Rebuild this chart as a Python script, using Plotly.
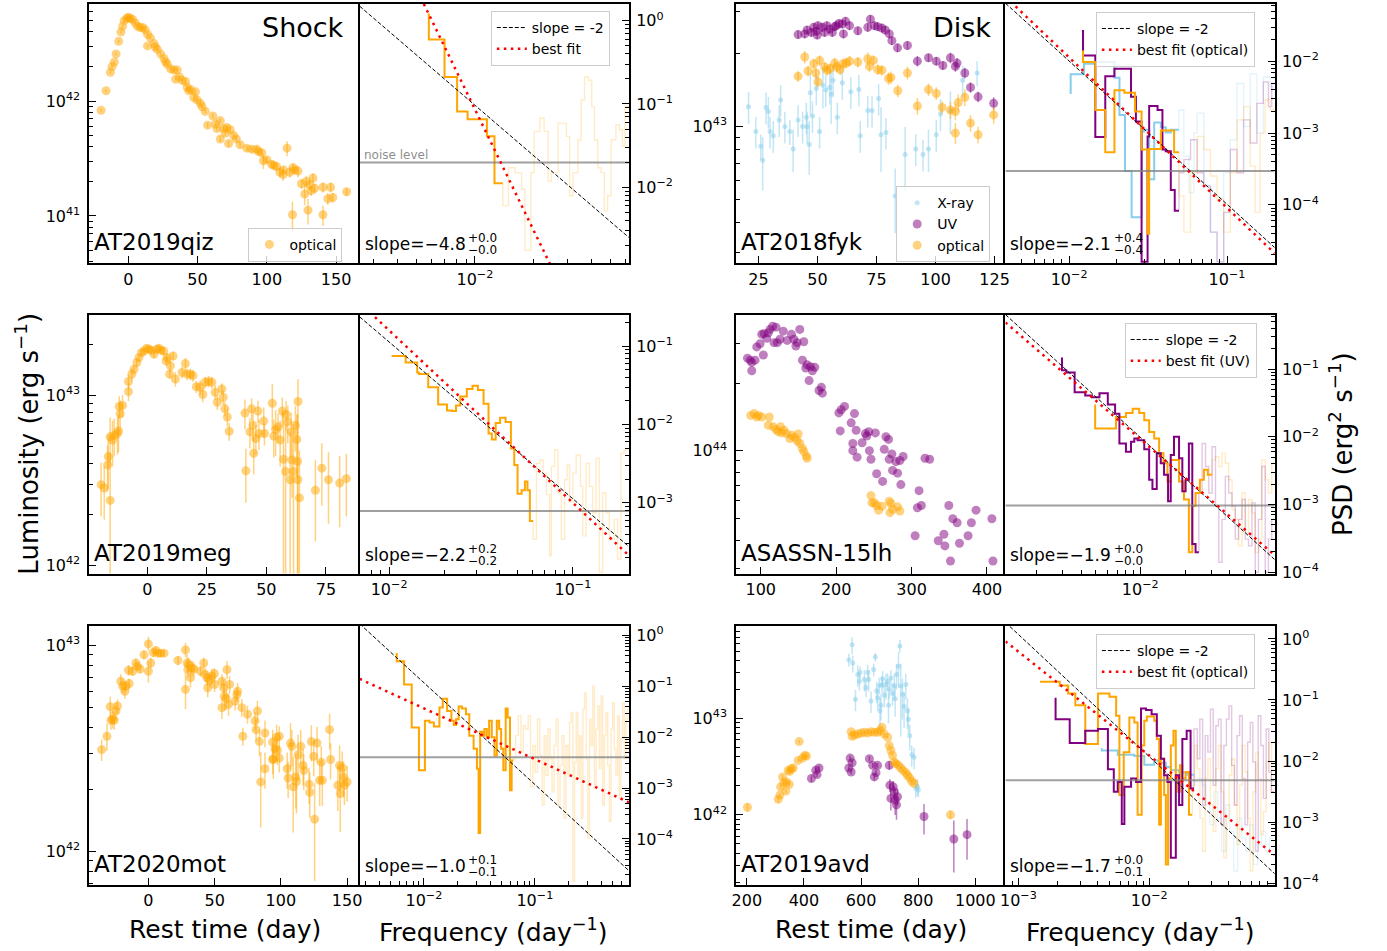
import numpy as np
import plotly.graph_objects as go

# ------------------------------------------------------------------
# Light curves: rest-frame time (day), log10 luminosity (erg/s) and
# fractional 1-sigma uncertainty of each point
# ------------------------------------------------------------------
qiz_t = [-19.6, -16.0, -12.9, -11.7, -10.0, -8.8, -6.9, -5.3, -4.1, -2.9, -1.0, 0.0, 1.4, 3.1, 5.0,
         6.7, 8.6, 10.3, 12.2, 13.9, 13.9, 16.0, 18.6, 19.5, 21.0, 23.4, 25.8, 27.0, 28.2, 30.6,
         33.0, 34.2, 35.3, 37.0, 38.9, 41.3, 42.5, 43.7, 45.0, 47.3, 48.5, 49.7, 52.0, 53.3, 55.6,
         57.3, 61.1, 63.0, 64.0, 66.4, 66.4, 68.8, 70.0, 71.2, 72.4, 73.6, 76.0, 78.0, 80.7, 85.5,
         89.1, 92.7, 94.0, 96.3, 97.5, 100.0, 103.4, 105.0, 107.0, 109.4, 111.8, 112.0, 114.6, 116.5,
         118.5, 118.9, 120.0, 122.5, 125.0, 127.3, 128.5, 129.7, 130.9, 132.0, 133.3, 134.5, 140.5,
         140.5, 144.0, 146.0, 147.6, 157.6]
qiz_logL = [41.92, 42.09, 42.25, 42.30, 42.34, 42.41, 42.52, 42.60, 42.65, 42.70, 42.72, 42.73, 42.72,
            42.71, 42.68, 42.65, 42.64, 42.64, 42.62, 42.58, 42.48, 42.55, 42.50, 42.47, 42.45, 42.41,
            42.37, 42.34, 42.32, 42.28, 42.27, 42.19, 42.27, 42.21, 42.18, 42.17, 42.12, 42.09, 42.10,
            42.03, 42.08, 42.01, 41.98, 41.95, 41.91, 41.79, 41.87, 41.80, 41.76, 41.83, 41.67, 41.76,
            41.72, 41.77, 41.63, 41.75, 41.70, 41.67, 41.62, 41.59, 41.58, 41.58, 41.56, 41.55, 41.48,
            41.49, 41.45, 41.44, 41.43, 41.38, 41.36, 41.40, 41.59, 41.38, 41.01, 41.42, 41.40, 41.39,
            41.28, 41.19, 41.30, 41.05, 41.27, 41.22, 41.33, 41.24, 41.25, 41.01, 41.15, 41.25, 41.16,
            41.21]
qiz_err = [0.03, 0.03, 0.03, 0.03, 0.03, 0.03, 0.03, 0.03, 0.03, 0.03, 0.03, 0.03, 0.03, 0.03, 0.03,
           0.03, 0.03, 0.03, 0.03, 0.03, 0.03, 0.03, 0.03, 0.03, 0.03, 0.03, 0.03, 0.03, 0.03, 0.03,
           0.03, 0.03, 0.03, 0.03, 0.03, 0.04, 0.04, 0.04, 0.04, 0.04, 0.04, 0.04, 0.04, 0.04, 0.04,
           0.05, 0.05, 0.05, 0.05, 0.05, 0.06, 0.05, 0.05, 0.05, 0.06, 0.05, 0.05, 0.06, 0.06, 0.06,
           0.06, 0.08, 0.06, 0.07, 0.15, 0.06, 0.07, 0.08, 0.08, 0.10, 0.12, 0.08, 0.15, 0.10, 0.30,
           0.10, 0.08, 0.12, 0.10, 0.20, 0.12, 0.25, 0.12, 0.10, 0.10, 0.10, 0.10, 0.20, 0.12, 0.10,
           0.10, 0.08]

meg_t = [-19.4, -18.1, -16.7, -16.4, -15.6, -15.6, -14.6, -13.9, -12.5, -12.1, -11.4, -10.4, -11.8,
         -7.9, -7.9, -6.5, -5.6, -4.4, -3.5, -2.5, -1.4, -0.3, 0.7, 1.7, 2.8, 3.9, 4.9, 5.8, 6.9, 7.9,
         8.3, 9.7, 10.8, 11.8, 9.4, 14.6, 16.0, 16.7, 18.1, 19.2, 20.6, 22.2, 23.3, 24.3, 25.7, 27.1,
         28.5, 29.4, 31.3, 31.9, 32.6, 33.6, 34.4, 41.0, 41.4, 43.8, 43.1, 44.4, 44.7, 45.6, 46.5,
         46.9, 48.9, 49.2, 52.5, 53.1, 53.9, 54.9, 55.8, 56.7, 57.2, 58.3, 58.1, 59.0, 60.0, 60.4,
         60.8, 61.4, 62.2, 62.8, 63.1, 63.2, 63.3, 63.9, 70.6, 73.3, 76.1, 80.8, 83.6]
meg_logL = [42.476, 42.456, 42.592, 42.641, 42.383, 42.757, 42.738, 42.767, 42.777, 42.792, 42.893,
            42.942, 42.936, 43.023, 43.083, 43.126, 43.155, 43.194, 43.223, 43.252, 43.262, 43.278,
            43.272, 43.266, 43.243, 43.272, 43.278, 43.266, 43.262, 43.204, 43.223, 43.175, 43.233,
            43.097, 43.126, 43.136, 43.188, 43.126, 43.126, 43.117, 43.052, 43.049, 43.006, 43.078,
            43.083, 43.078, 43.019, 42.961, 43.039, 42.990, 42.922, 42.874, 42.790, 42.897, 42.557,
            42.922, 42.786, 42.825, 42.660, 42.748, 42.909, 42.777, 42.850, 42.777, 42.955, 42.761,
            42.800, 42.816, 42.738, 42.909, 42.625, 42.889, 42.553, 42.845, 42.505, 42.786, 42.621,
            42.553, 42.825, 42.742, 42.612, 42.505, 42.965, 42.398, 42.443, 42.573, 42.505, 42.485,
            42.511]
meg_err = [0.35, 0.35, 0.30, 0.35, 0.90, 0.30, 0.30, 0.25, 0.25, 0.25, 0.20, 0.15, 0.15, 0.12, 0.10,
           0.08, 0.06, 0.06, 0.05, 0.05, 0.05, 0.05, 0.05, 0.05, 0.05, 0.05, 0.05, 0.05, 0.06, 0.06,
           0.06, 0.08, 0.06, 0.10, 0.06, 0.08, 0.08, 0.08, 0.08, 0.08, 0.08, 0.10, 0.10, 0.08, 0.08,
           0.08, 0.10, 0.10, 0.08, 0.10, 0.10, 0.12, 0.12, 0.20, 0.35, 0.15, 0.20, 0.20, 0.25, 0.20,
           0.15, 0.20, 0.20, 0.15, 0.30, 0.25, 0.30, 0.20, 0.30, 0.20, 0.90, 0.20, 0.90, 0.25, 0.90,
           0.30, 0.40, 0.90, 0.30, 0.40, 0.90, 0.90, 0.35, 0.90, 0.50, 0.40, 0.45, 0.45, 0.40]

mot_t = [-35.3, -31.3, -28.8, -28.3, -27.0, -25.8, -24.5, -23.3, -20.8, -19.5, -17.8, -17.0, -14.5,
         -15.0, -12.0, -9.5, -8.3, -6.3, -3.3, 0.0, 0.0, 1.8, 3.8, 5.5, 7.3, 9.3, 11.8, 22.3, 28.0,
         28.0, 29.3, 29.8, 30.5, 31.8, 33.0, 34.3, 39.3, 41.8, 43.0, 44.3, 44.8, 46.3, 48.0, 49.8,
         50.0, 55.5, 56.8, 55.5, 57.3, 58.8, 59.3, 61.3, 60.5, 65.5, 67.3, 66.8, 70.5, 71.3, 74.8,
         80.5, 81.3, 82.3, 83.8, 84.8, 88.0, 88.0, 93.8, 94.3, 95.5, 96.8, 97.3, 98.8, 98.8, 93.8,
         104.8, 105.5, 107.3, 108.3, 109.3, 111.3, 111.8, 113.0, 115.0, 116.8, 117.3, 121.3, 121.8,
         123.0, 124.8, 125.5, 127.3, 129.3, 130.5, 131.3, 136.8, 137.5, 143.0, 144.3, 144.8, 146.3,
         147.3, 148.0, 150.0]
mot_logL = [42.494, 42.559, 42.703, 42.637, 42.642, 42.637, 42.682, 42.706, 42.827, 42.803, 42.778,
            42.803, 42.815, 42.880, 42.875, 42.915, 42.899, 42.886, 42.955, 43.008, 42.875, 42.915,
            42.966, 42.976, 42.963, 42.963, 42.963, 42.928, 42.979, 42.787, 42.915, 42.883, 42.907,
            42.843, 42.891, 42.886, 42.875, 42.915, 42.859, 42.843, 42.795, 42.831, 42.851, 42.864,
            42.811, 42.827, 42.795, 42.698, 42.754, 42.742, 42.883, 42.811, 42.714, 42.730, 42.778,
            42.762, 42.698, 42.559, 42.666, 42.634, 42.591, 42.682, 42.533, 42.337, 42.575, 42.401,
            42.530, 42.449, 42.498, 42.554, 42.490, 42.559, 42.453, 42.446, 42.401, 42.356, 42.526,
            42.510, 42.313, 42.361, 42.339, 42.469, 42.510, 42.417, 42.393, 42.326, 42.286, 42.533,
            42.461, 42.156, 42.526, 42.345, 42.433, 42.345, 42.591, 42.446, 42.321, 42.417, 42.281,
            42.406, 42.358, 42.321, 42.337]
mot_err = [0.12, 0.15, 0.12, 0.10, 0.10, 0.10, 0.10, 0.08, 0.08, 0.08, 0.08, 0.06, 0.06, 0.06, 0.05,
           0.05, 0.05, 0.05, 0.05, 0.08, 0.12, 0.06, 0.05, 0.05, 0.04, 0.04, 0.04, 0.05, 0.08, 0.20,
           0.10, 0.08, 0.08, 0.10, 0.08, 0.08, 0.06, 0.06, 0.08, 0.08, 0.10, 0.08, 0.08, 0.06, 0.08,
           0.08, 0.10, 0.12, 0.15, 0.12, 0.10, 0.10, 0.12, 0.10, 0.10, 0.08, 0.10, 0.10, 0.10, 0.10,
           0.12, 0.12, 0.15, 0.40, 0.15, 0.20, 0.15, 0.20, 0.15, 0.15, 0.15, 0.12, 0.15, 0.15, 0.20,
           0.20, 0.25, 0.20, 0.40, 0.30, 0.30, 0.25, 0.20, 0.20, 0.20, 0.20, 0.25, 0.20, 0.20, 0.50,
           0.20, 0.25, 0.20, 0.25, 0.20, 0.20, 0.25, 0.25, 0.35, 0.20, 0.20, 0.20, 0.20]

fyk_x_t = [20.8, 23.9, 26.0, 26.8, 28.2, 29.2, 29.9, 31.3, 33.8, 34.4, 36.2, 38.3, 39.7, 41.8, 43.7,
           45.3, 45.6, 46.5, 47.0, 47.9, 49.5, 50.9, 52.3, 53.5, 55.2, 55.8, 56.6, 58.4, 60.5, 64.1,
           67.5, 68.1, 71.3, 73.1, 75.9, 76.9, 79.0, 82.9, 87.1, 91.6, 94.7, 97.0, 100.3, 102.1,
           106.3, 111.5, 117.6]
fyk_x_logL = [43.082, 42.979, 42.918, 42.860, 43.079, 43.062, 42.979, 42.962, 43.027, 43.110, 43.000,
              42.979, 42.907, 43.027, 43.000, 43.038, 43.000, 42.925, 43.140, 43.044, 43.158, 42.979,
              43.171, 43.151, 43.162, 43.134, 43.192, 43.038, 43.181, 43.144, 43.153, 42.962, 43.066,
              43.066, 43.116, 42.966, 42.975, 42.712, 42.884, 42.907, 42.884, 42.907, 42.966, 43.052,
              43.066, 43.192, 43.222]
fyk_x_err = [0.15, 0.15, 0.12, 0.25, 0.15, 0.15, 0.15, 0.15, 0.15, 0.15, 0.15, 0.12, 0.20, 0.15, 0.15,
             0.15, 0.15, 0.25, 0.20, 0.15, 0.15, 0.15, 0.20, 0.15, 0.15, 0.25, 0.15, 0.15, 0.15, 0.15,
             0.15, 0.15, 0.15, 0.15, 0.15, 0.30, 0.15, 0.30, 0.30, 0.15, 0.15, 0.20, 0.15, 0.15, 0.20,
             0.15, 0.12]
fyk_uv_t = [41.8, 44.6, 45.6, 47.4, 48.4, 49.5, 49.9, 50.2, 52.0, 53.0, 54.0, 55.2, 56.3, 57.3, 58.0,
            59.1, 60.5, 61.9, 61.0, 63.6, 67.1, 71.3, 72.4, 74.1, 75.5, 77.3, 78.7, 80.4, 81.5, 83.9,
            88.1, 92.3, 97.0, 100.3, 103.1, 106.3, 108.4, 109.1, 112.4, 114.8, 118.0, 124.6]
fyk_uv_logL = [43.381, 43.384, 43.400, 43.390, 43.411, 43.395, 43.379, 43.418, 43.411, 43.390, 43.418,
               43.404, 43.390, 43.414, 43.418, 43.427, 43.425, 43.436, 43.384, 43.418, 43.397, 43.411,
               43.445, 43.418, 43.414, 43.408, 43.400, 43.384, 43.356, 43.326, 43.336, 43.271, 43.285,
               43.271, 43.253, 43.285, 43.249, 43.263, 43.222, 43.162, 43.123, 43.096]
fyk_uv_err = [0.04, 0.04, 0.04, 0.04, 0.04, 0.04, 0.04, 0.04, 0.04, 0.04, 0.04, 0.04, 0.04, 0.04,
              0.04, 0.04, 0.04, 0.04, 0.04, 0.04, 0.04, 0.04, 0.04, 0.04, 0.04, 0.04, 0.04, 0.04,
              0.04, 0.04, 0.04, 0.05, 0.04, 0.04, 0.04, 0.05, 0.05, 0.05, 0.05, 0.05, 0.05, 0.06]
fyk_opt_t = [41.8, 44.6, 46.0, 48.4, 49.3, 50.2, 50.9, 53.1, 54.0, 55.4, 57.3, 58.2, 59.6, 60.8, 62.2,
             63.6, 67.1, 71.3, 72.0, 73.7, 75.5, 77.3, 80.1, 81.1, 84.0, 88.1, 92.3, 97.0, 100.3,
             102.8, 106.3, 108.4, 108.4, 109.6, 112.4, 114.8, 118.0, 124.6]
fyk_opt_logL = [43.208, 43.288, 43.230, 43.260, 43.222, 43.185, 43.274, 43.247, 43.233, 43.240, 43.263,
                43.247, 43.236, 43.260, 43.263, 43.271, 43.267, 43.281, 43.249, 43.274, 43.236, 43.233,
                43.199, 43.203, 43.148, 43.222, 43.085, 43.153, 43.137, 43.079, 43.068, 42.973, 43.062,
                43.099, 43.121, 43.014, 42.966, 43.048]
fyk_opt_err = [0.05, 0.06, 0.05, 0.05, 0.05, 0.05, 0.05, 0.05, 0.05, 0.05, 0.05, 0.05, 0.05, 0.05,
               0.05, 0.05, 0.05, 0.06, 0.05, 0.05, 0.05, 0.05, 0.06, 0.06, 0.06, 0.06, 0.08, 0.06,
               0.06, 0.06, 0.08, 0.10, 0.08, 0.08, 0.08, 0.08, 0.08, 0.08]

lh_uv_t = [82.4, 86.0, 88.1, 88.1, 92.5, 94.7, 99.1, 101.3, 103.5, 104.4, 107.9, 110.1, 112.3, 115.8,
           120.2, 117.6, 122.0, 125.5, 129.9, 135.1, 140.8, 143.9, 146.6, 148.3, 151.8, 157.1, 155.3,
           159.7, 161.5, 165.9, 168.5, 171.6, 164.1, 177.3, 180.4, 181.7, 203.6, 206.7, 211.1, 205.4,
           219.9, 224.3, 222.1, 222.1, 226.5, 227.8, 234.4, 238.8, 240.6, 243.2, 244.1, 246.2, 252.0,
           253.7, 261.6, 263.8, 266.0, 269.5, 270.4, 273.9, 274.8, 279.2, 281.4, 284.5, 285.8, 288.8,
           309.9, 307.7, 313.0, 304.7, 317.8, 324.0, 335.4, 342.9, 344.2, 349.4, 351.6, 354.7, 360.4,
           363.5, 374.9, 379.3, 385.5, 406.5, 407.9]
lh_uv_logL = [44.412, 44.403, 44.356, 44.393, 44.403, 44.462, 44.476, 44.518, 44.426, 44.521, 44.500,
              44.525, 44.540, 44.554, 44.550, 44.481, 44.481, 44.496, 44.532, 44.491, 44.518, 44.496,
              44.466, 44.481, 44.540, 44.485, 44.403, 44.368, 44.382, 44.374, 44.356, 44.371, 44.312,
              44.268, 44.282, 44.256, 44.168, 44.182, 44.197, 44.088, 44.124, 44.165, 44.032, 44.000,
              44.091, 43.971, 44.035, 44.076, 44.065, 44.084, 44.000, 43.962, 44.079, 43.897, 43.863,
              44.006, 44.062, 44.050, 43.962, 43.985, 43.912, 43.951, 43.900, 43.956, 43.849, 43.974,
              43.822, 43.746, 43.756, 43.621, 43.966, 43.962, 43.599, 43.628, 43.576, 43.756, 43.509,
              43.697, 43.679, 43.588, 43.621, 43.679, 43.735, 43.697, 43.509]
lh_opt_t = [86.8, 91.2, 94.7, 96.9, 101.3, 110.1, 111.4, 116.7, 120.2, 123.3, 126.4, 127.7, 130.7,
            134.3, 138.6, 140.8, 145.2, 148.3, 149.6, 151.8, 155.3, 157.1, 160.6, 161.5, 246.2, 247.5,
            250.6, 253.7, 256.3, 260.7, 270.4, 272.6, 271.3, 274.8, 281.4, 284.5]
lh_opt_logL = [44.157, 44.165, 44.150, 44.157, 44.150, 44.113, 44.150, 44.106, 44.094, 44.084, 44.106,
               44.079, 44.091, 44.076, 44.054, 44.069, 44.059, 44.044, 44.074, 44.032, 44.010, 43.996,
               43.976, 43.966, 43.800, 43.768, 43.768, 43.756, 43.735, 43.753, 43.775, 43.765, 43.724,
               43.738, 43.750, 43.731]

avd_x_t = [557.1, 568.7, 571.0, 580.3, 588.4, 594.2, 596.5, 611.6, 617.4, 623.2, 626.7, 634.8, 644.1,
           649.9, 654.5, 658.0, 663.8, 666.1, 669.6, 673.0, 675.4, 681.2, 687.0, 692.8, 696.2, 698.6,
           704.3, 710.1, 715.9, 719.4, 724.0, 731.0, 735.7, 739.1, 744.9, 750.7, 756.5, 762.3, 765.8,
           770.4, 777.4, 785.5, 791.3, 797.1, 800.6]
avd_x_logL = [43.610, 43.764, 43.575, 43.199, 43.455, 43.387, 43.479, 43.404, 43.318, 43.479, 43.404,
              43.182, 43.507, 43.637, 43.284, 43.216, 43.342, 43.079, 43.137, 43.353, 43.411, 43.240,
              43.353, 43.387, 43.137, 43.301, 43.421, 43.260, 43.342, 43.205, 43.455, 43.541, 43.753,
              43.336, 43.250, 43.123, 43.353, 43.079, 42.993, 42.822, 42.623, 42.599, 42.274, 42.291,
              42.257]
avd_x_err = [0.15, 0.20, 0.20, 0.25, 0.25, 0.20, 0.15, 0.25, 0.20, 0.20, 0.25, 0.25, 0.15, 0.10, 0.25,
             0.25, 0.20, 0.35, 0.30, 0.20, 0.20, 0.25, 0.30, 0.20, 0.35, 0.20, 0.20, 0.25, 0.30, 0.35,
             0.30, 0.40, 0.15, 0.70, 0.45, 0.40, 0.30, 0.35, 0.30, 0.30, 0.25, 0.25, 0.20, 0.20, 0.15]
avd_uv_t = [426.1, 441.2, 445.8, 452.8, 557.1, 561.7, 565.2, 568.7, 629.0, 640.6, 646.4, 652.2, 658.0,
            698.6, 700.9, 704.3, 712.5, 715.9, 719.4, 724.0, 727.5, 820.3, 924.6, 971.0]
avd_uv_logL = [42.377, 42.462, 42.418, 42.486, 42.486, 42.589, 42.445, 42.541, 42.582, 42.514, 42.394,
               42.438, 42.514, 42.514, 42.308, 42.171, 42.291, 42.240, 42.154, 42.103, 42.188, 41.983,
               41.750, 41.795]
avd_uv_err = [0.08, 0.06, 0.06, 0.06, 0.06, 0.06, 0.06, 0.06, 0.06, 0.06, 0.08, 0.06, 0.06, 0.10,
              0.15, 0.25, 0.15, 0.15, 0.30, 0.30, 0.20, 0.35, 0.55, 0.45]
avd_opt_t = [202.3, 310.1, 315.9, 318.3, 325.2, 329.9, 336.8, 339.1, 344.9, 348.4, 350.7, 356.5, 362.3,
             379.7, 383.2, 394.8, 402.9, 408.7, 565.2, 568.7, 576.8, 588.4, 600.0, 611.6, 623.2, 634.8,
             646.4, 658.0, 666.1, 673.0, 681.2, 692.8, 698.6, 704.3, 710.1, 715.9, 721.7, 731.0, 739.1,
             747.2, 756.5, 762.3, 770.4, 777.4, 785.5, 913.0]
avd_opt_logL = [42.079, 42.161, 42.205, 42.291, 42.394, 42.336, 42.247, 42.342, 42.462, 42.315, 42.452,
                42.479, 42.486, 42.565, 42.760, 42.589, 42.616, 42.610, 42.863, 42.815, 42.829, 42.839,
                42.849, 42.856, 42.849, 42.863, 42.856, 42.856, 42.873, 42.908, 42.839, 42.805, 42.719,
                42.668, 42.616, 42.548, 42.531, 42.514, 42.486, 42.462, 42.438, 42.411, 42.384, 42.349,
                42.325, 42.000]
avd_opt_err = [0.10, 0.08, 0.06, 0.06, 0.06, 0.05, 0.05, 0.05, 0.05, 0.05, 0.04, 0.04, 0.04, 0.04,
               0.04, 0.04, 0.04, 0.04, 0.03, 0.03, 0.03, 0.03, 0.03, 0.03, 0.03, 0.03, 0.03, 0.03,
               0.03, 0.03, 0.03, 0.03, 0.03, 0.03, 0.03, 0.03, 0.03, 0.03, 0.03, 0.03, 0.03, 0.03,
               0.03, 0.03, 0.03, 0.10]

# ------------------------------------------------------------------
# Power spectra: log10 frequency (1/day), log10 PSD.
# *_f/*_p: fitted frequency range, *_hi_f/*_hi_p: higher frequencies
# ------------------------------------------------------------------
qiz_f = [-2.238, -2.157, -2.092, -2.038, -1.938, -1.899, -1.856]
qiz_p = [0.087, -0.226, -0.675, -1.091, -1.183, -1.389, -1.952]
qiz_hi_f = [-1.827, -1.793, -1.759, -1.742, -1.711, -1.694, -1.665, -1.643, -1.622, -1.605, -1.571,
            -1.528, -1.511, -1.494, -1.468, -1.451, -1.434, -1.414, -1.397, -1.383, -1.366, -1.349,
            -1.332, -1.315, -1.297, -1.272, -1.255, -1.238, -1.226, -1.203]
qiz_hi_p = [-2.222, -1.766, -1.825, -2.024, -2.758, -1.825, -1.329, -1.171, -1.329, -1.925, -1.825,
            -1.230, -1.389, -2.103, -1.825, -1.429, -0.952, -0.675, -0.714, -1.032, -1.429, -1.766,
            -1.825, -2.282, -2.103, -1.429, -1.250, -1.310, -1.508, -1.032]

meg_f = [-1.986, -1.910, -1.847, -1.838, -1.787, -1.733, -1.685, -1.658, -1.636, -1.613, -1.577,
         -1.546, -1.517, -1.486, -1.459, -1.441, -1.420, -1.396, -1.366, -1.337, -1.319, -1.301,
         -1.279, -1.261, -1.247, -1.234, -1.216]
meg_p = [-1.126, -1.126, -1.211, -1.337, -1.358, -1.526, -1.745, -1.821, -1.829, -1.758, -1.644,
         -1.547, -1.505, -1.560, -1.737, -2.116, -2.192, -1.981, -1.914, -1.968, -2.305, -2.516,
         -2.882, -2.840, -2.726, -2.840, -3.232]
meg_hi_f = [-1.198, -1.180, -1.162, -1.144, -1.126, -1.117, -1.099, -1.081, -1.063, -1.045, -1.031,
            -1.018, -1.000, -0.982, -0.959, -0.946, -0.928, -0.910, -0.892, -0.874, -0.856, -0.838,
            -0.820, -0.802, -0.775, -0.757, -0.739, -0.721, -0.703]
meg_hi_p = [-3.463, -2.495, -2.453, -2.621, -2.895, -3.674, -2.537, -2.326, -2.874, -3.463, -2.705,
            -2.516, -2.989, -2.621, -2.389, -2.789, -3.421, -2.495, -2.789, -3.126, -2.432, -3.884,
            -2.874, -3.126, -3.463, -3.211, -3.716, -2.368, -2.326]

mot_f = [-2.245, -2.179, -2.110, -2.045, -1.991, -1.949, -1.910, -1.860, -1.830, -1.791, -1.752,
         -1.731, -1.710, -1.687, -1.657, -1.621, -1.591, -1.552, -1.522, -1.507, -1.493, -1.472,
         -1.454, -1.433, -1.412, -1.388, -1.364, -1.343, -1.322, -1.304, -1.284, -1.263, -1.245,
         -1.224, -1.209, -1.194]
mot_p = [-0.344, -0.506, -0.961, -1.805, -2.649, -1.675, -1.708, -1.786, -1.416, -1.240, -1.481,
         -1.675, -1.760, -1.643, -1.396, -1.435, -1.545, -1.968, -2.227, -2.617, -3.883, -1.890,
         -1.968, -1.838, -2.000, -1.675, -2.000, -2.357, -1.675, -1.838, -2.227, -2.649, -1.435,
         -1.610, -3.039, -2.455]
mot_hi_f = [-1.173, -1.149, -1.125, -1.104, -1.084, -1.060, -1.039, -1.018, -0.997, -0.976, -0.955,
            -0.934, -0.916, -0.899, -0.881, -0.863, -0.845, -0.827, -0.809, -0.791, -0.773, -0.755,
            -0.737, -0.719, -0.701, -0.687, -0.672, -0.657, -0.642, -0.627, -0.612, -0.597, -0.582,
            -0.567, -0.552, -0.537, -0.522, -0.507, -0.493, -0.478, -0.463, -0.448, -0.433, -0.418,
            -0.403, -0.388, -0.373, -0.358, -0.343, -0.328, -0.313, -0.299, -0.284, -0.269, -0.254,
            -0.239, -0.224, -0.209, -0.194, -0.179, -0.164, -0.152]
mot_hi_p = [-2.422, -1.968, -1.578, -2.292, -1.773, -1.838, -1.578, -2.974, -2.162, -2.682, -1.643,
            -2.357, -3.331, -1.968, -2.747, -1.838, -2.422, -3.071, -2.162, -1.643, -3.331, -2.552,
            -1.968, -3.591, -2.162, -2.747, -1.708, -1.513, -4.825, -2.487, -1.513, -2.812, -1.968,
            -3.591, -1.448, -1.123, -2.422, -3.981, -1.643, -2.162, -0.994, -3.006, -1.838, -1.383,
            -2.617, -1.188, -3.331, -1.968, -1.513, -2.552, -3.656, -1.838, -1.318, -2.227, -2.747,
            -1.578, -3.201, -2.032, -1.318, -2.422, -1.643, -1.448]

fyk_x_f = [-1.990, -1.906, -1.828, -1.713, -1.681, -1.646, -1.604, -1.541, -1.524, -1.493, -1.461,
           -1.419, -1.388, -1.356, -1.304]
fyk_x_p = [-2.456, -2.180, -2.032, -2.009, -2.226, -2.747, -3.530, -4.175, -2.977, -2.954, -3.645,
           -2.853, -2.917, -2.991, -2.954]
fyk_x_hi_f = [-1.273, -1.241, -1.210, -1.189, -1.147, -1.105, -1.063, -1.021, -0.979, -0.937, -0.895,
              -0.853, -0.811, -0.770, -0.727, -0.696]
fyk_x_hi_p = [-2.677, -3.323, -3.829, -3.000, -2.724, -3.737, -4.382, -4.797, -3.553, -3.092, -2.309,
              -2.908, -2.171, -3.000, -2.217, -2.355]
fyk_uv_f = [-1.912, -1.834, -1.771, -1.713, -1.660, -1.608, -1.577, -1.541, -1.503, -1.493, -1.440,
            -1.409, -1.388, -1.356, -1.331, -1.304]
fyk_uv_p = [-1.562, -1.917, -3.055, -2.207, -2.101, -2.101, -2.493, -2.839, -4.797, -3.046, -2.622,
            -2.677, -3.230, -3.253, -3.793, -4.083]
fyk_uv_hi_f = [-1.273, -1.231, -1.189, -1.147, -1.105, -1.063, -1.021, -0.979, -0.937, -0.895, -0.853,
               -0.811, -0.770, -0.738, -0.717, -0.696]
fyk_uv_hi_p = [-3.553, -3.369, -3.092, -3.553, -3.737, -4.382, -4.797, -4.106, -3.230, -3.553, -2.816,
               -3.138, -2.585, -2.286, -2.631, -2.309]
fyk_opt_f = [-1.912, -1.834, -1.771, -1.713, -1.650, -1.583, -1.541, -1.503, -1.493, -1.419, -1.367,
             -1.335, -1.304]
fyk_opt_p = [-1.848, -2.009, -2.677, -3.267, -2.401, -2.438, -2.700, -3.230, -4.406, -3.221, -2.963,
             -2.963, -3.267]
fyk_opt_hi_f = [-1.273, -1.231, -1.189, -1.147, -1.105, -1.063, -1.021, -0.979, -0.937, -0.895,
                -0.853, -0.822, -0.790, -0.759, -0.727, -0.696]
fyk_opt_hi_p = [-3.876, -4.382, -3.553, -3.046, -3.230, -3.599, -3.922, -4.382, -3.553, -2.816,
                -2.631, -3.461, -4.106, -3.000, -2.539, -2.677]

lh_uv_f = [-2.526, -2.497, -2.441, -2.370, -2.325, -2.274, -2.218, -2.169, -2.140, -2.096, -2.062,
           -2.040, -2.018, -1.973, -1.940, -1.918, -1.889, -1.862, -1.840, -1.813, -1.795, -1.773,
           -1.739, -1.717, -1.695, -1.673, -1.650, -1.628, -1.606]
lh_uv_p = [-0.829, -1.015, -1.049, -1.341, -1.390, -1.415, -1.356, -1.522, -1.659, -2.098, -2.220,
           -2.073, -2.024, -2.049, -2.185, -2.634, -2.771, -2.244, -2.390, -2.561, -2.951, -2.268,
           -2.000, -2.317, -2.805, -2.634, -2.098, -3.585, -3.707]
lh_uv_hi_f = [-1.584, -1.561, -1.539, -1.517, -1.494, -1.472, -1.450, -1.428, -1.405, -1.383, -1.361,
              -1.339, -1.316, -1.294, -1.272, -1.249, -1.227, -1.205, -1.183, -1.160, -1.138, -1.116,
              -1.094]
lh_uv_hi_p = [-2.829, -2.098, -2.439, -2.829, -2.146, -3.024, -3.854, -3.220, -2.585, -2.829, -3.024,
              -3.512, -3.220, -2.927, -3.512, -3.610, -2.976, -4.000, -3.220, -2.439, -4.000, -3.512,
              -3.220]
lh_opt_f = [-2.303, -2.163, -2.096, -2.051, -2.007, -1.973, -1.940, -1.906, -1.873, -1.844, -1.817,
            -1.795, -1.739, -1.706, -1.673, -1.650, -1.628, -1.599, -1.572, -1.546, -1.517]
lh_opt_p = [-1.522, -1.878, -1.707, -1.649, -1.585, -1.649, -1.756, -1.927, -2.024, -2.244, -2.390,
            -2.659, -2.341, -2.659, -2.927, -3.707, -3.024, -2.829, -2.634, -2.488, -2.561]
lh_opt_hi_f = [-1.494, -1.472, -1.450, -1.428, -1.405, -1.383, -1.361, -1.339, -1.316, -1.294, -1.272,
               -1.249, -1.227, -1.205, -1.183, -1.160, -1.138, -1.116, -1.094]
lh_opt_hi_p = [-2.341, -2.293, -2.439, -2.244, -2.390, -2.634, -3.073, -3.220, -3.610, -2.829, -3.415,
               -2.927, -3.122, -3.707, -3.512, -2.341, -2.634, -2.829, -2.390]

avd_x_f = [-2.362, -2.241, -2.114, -2.038, -1.962, -1.924, -1.873, -1.835, -1.772, -1.709, -1.658]
avd_x_p = [-1.789, -1.827, -1.897, -1.919, -2.059, -1.989, -2.027, -2.097, -2.151, -2.189, -2.222]
avd_x_hi_f = [-1.628, -1.597, -1.567, -1.537, -1.506, -1.476, -1.446, -1.415, -1.385, -1.354, -1.324,
              -1.294, -1.263, -1.233, -1.203, -1.172, -1.142, -1.111, -1.081, -1.051]
avd_x_hi_p = [-2.341, -2.286, -2.395, -2.719, -3.043, -2.503, -2.935, -3.476, -2.719, -3.151, -3.800,
              -2.935, -3.259, -3.476, -3.043, -3.692, -3.368, -3.151, -3.476, -3.259]
avd_uv_f = [-2.716, -2.608, -2.489, -2.392, -2.316, -2.271, -2.241, -2.210, -2.190, -2.139, -2.101,
            -2.063, -2.025, -1.982, -1.942, -1.911, -1.886, -1.861, -1.835, -1.797, -1.772, -1.747,
            -1.714, -1.684, -1.658]
avd_uv_p = [-0.962, -1.314, -1.703, -1.503, -1.476, -2.135, -2.503, -2.341, -3.032, -2.422, -2.286,
            -2.341, -1.141, -1.162, -1.232, -1.584, -1.962, -2.232, -2.341, -3.584, -2.232, -2.719,
            -1.638, -1.503, -2.449]
avd_uv_hi_f = [-1.633, -1.613, -1.592, -1.572, -1.552, -1.532, -1.511, -1.491, -1.471, -1.451, -1.430,
               -1.410, -1.390, -1.370, -1.349, -1.329, -1.309, -1.289, -1.268, -1.248, -1.228, -1.208,
               -1.187, -1.167, -1.147, -1.127, -1.106, -1.086, -1.066, -1.046]
avd_uv_hi_p = [-1.476, -1.962, -1.314, -2.719, -1.584, -1.854, -1.151, -2.395, -1.422, -1.314, -3.043,
               -1.746, -1.314, -1.097, -2.070, -2.719, -1.584, -1.259, -2.286, -3.043, -1.692, -1.368,
               -2.016, -3.476, -1.259, -1.746, -2.611, -1.476, -2.178, -2.503]
avd_opt_f = [-2.835, -2.684, -2.620, -2.565, -2.489, -2.392, -2.304, -2.253, -2.228, -2.195, -2.152,
             -2.114, -2.089, -2.058, -2.038, -2.018, -1.962, -1.942, -1.924, -1.911, -1.886, -1.873,
             -1.856, -1.835, -1.815, -1.797, -1.780, -1.765, -1.747, -1.722, -1.696, -1.671]
avd_opt_p = [-0.703, -0.703, -0.762, -0.892, -1.086, -1.719, -0.892, -0.946, -1.259, -2.557, -1.854,
             -1.286, -1.368, -2.881, -1.746, -1.341, -1.270, -1.341, -1.638, -3.043, -1.962, -2.557,
             -3.692, -2.286, -1.746, -1.503, -2.286, -2.503, -2.070, -2.286, -2.178, -2.881]
avd_opt_hi_f = [-1.653, -1.633, -1.613, -1.592, -1.572, -1.552, -1.532, -1.511, -1.491, -1.471,
                -1.451, -1.430, -1.410, -1.390, -1.370, -1.349, -1.329, -1.309, -1.289, -1.268,
                -1.248, -1.228, -1.208, -1.187, -1.167, -1.147, -1.127, -1.106, -1.086, -1.066,
                -1.046]
avd_opt_hi_p = [-2.395, -1.746, -2.124, -2.935, -3.476, -2.286, -1.962, -2.719, -3.151, -2.124,
                -1.746, -2.503, -3.584, -2.935, -2.232, -1.962, -2.719, -3.368, -2.395, -1.746,
                -2.178, -2.935, -3.800, -2.503, -1.854, -2.286, -3.205, -2.827, -2.016, -1.692,
                -2.503]

# Power-law guides (P = 10**norm * f**slope) and measured noise levels, per source
sources = ["AT2019qiz", "AT2018fyk", "AT2019meg", "ASASSN-15lh", "AT2020mot", "AT2019avd"]
ref_norm = [-5.015, -5.994, -4.948, -6.006, -4.927, -5.927]       # slope = -2 reference
fit_slope = [-4.8, -2.1, -2.2, -1.9, -1.0, -1.7]
fit_norm = [-10.664, -6.144, -5.200, -5.832, -3.431, -5.309]
fit_err_hi = [0.0, 0.4, 0.2, 0.0, 0.1, 0.0]
fit_err_lo = [0.0, 0.4, 0.2, 0.0, 0.1, 0.1]
noise_log = [-1.702, -3.530, -3.105, -3.015, -2.390, -2.314]
fit_label = ["best fit", "best fit (optical)", None, "best fit (UV)", None, "best fit (optical)"]

# ------------------------------------------------------------------
# Figure layout
# ------------------------------------------------------------------
W, H = 1387, 951
FONT = "DejaVu Sans"
OPT, UV, XR = "255,165,0", "128,0,128", "135,206,235"


def fx(p):
    return p / W


def fy(p):
    return 1 - p / H


LC_COLS = [(85, 357), (736, 1007)]
PSD_COLS = [(357, 628), (1007, 1278)]
ROWS = [(3, 265), (317, 578), (631, 892)]

panels = [
    dict(row=0, col=0, lc_x=(-28, 167), lc_y=(40.586, 42.845), lc_ticks=[0, 50, 100, 150],
         lc=[(qiz_t, qiz_logL, qiz_err, OPT, 9, "optical", "legend")],
         psd=[(qiz_f, qiz_p, qiz_hi_f, qiz_hi_p, OPT)],
         psd_x=(-2.595, -1.205), psd_y=(-2.917, 0.202), psd_legend="legend2"),
    dict(row=0, col=1, lc_x=(15.6, 129.6), lc_y=(42.432, 43.508), lc_ticks=[25, 50, 75, 100, 125],
         lc=[(fyk_x_t, fyk_x_logL, fyk_x_err, XR, 5, "X-ray", "legend3"),
             (fyk_uv_t, fyk_uv_logL, fyk_uv_err, UV, 9, "UV", "legend3"),
             (fyk_opt_t, fyk_opt_logL, fyk_opt_err, OPT, 9, "optical", "legend3")],
         psd=[(fyk_x_f, fyk_x_p, fyk_x_hi_f, fyk_x_hi_p, XR),
              (fyk_uv_f, fyk_uv_p, fyk_uv_hi_f, fyk_uv_hi_p, UV),
              (fyk_opt_f, fyk_opt_p, fyk_opt_hi_f, fyk_opt_hi_p, OPT)],
         psd_x=(-2.403, -0.698), psd_y=(-4.820, -1.198), psd_legend="legend4"),
    dict(row=1, col=0, lc_x=(-24.3, 89.2), lc_y=(41.953, 43.474), lc_ticks=[0, 25, 50, 75],
         lc=[(meg_t, meg_logL, meg_err, OPT, 9, "optical", None)],
         psd=[(meg_f, meg_p, meg_hi_f, meg_hi_p, OPT)],
         psd_x=(-2.160, -0.695), psd_y=(-3.901, -0.604), psd_legend=None),
    dict(row=1, col=1, lc_x=(67.5, 424.5), lc_y=(43.453, 44.604), lc_ticks=[100, 200, 300, 400],
         lc=[(lh_uv_t, lh_uv_logL, None, UV, 9, "UV", None),
             (lh_opt_t, lh_opt_logL, None, OPT, 9, "optical", None)],
         psd=[(lh_opt_f, lh_opt_p, lh_opt_hi_f, lh_opt_hi_p, OPT),
              (lh_uv_f, lh_uv_p, lh_uv_hi_f, lh_uv_hi_p, UV)],
         psd_x=(-2.906, -1.096), psd_y=(-4.02, -0.2), psd_legend="legend5"),
    dict(row=2, col=0, lc_x=(-44.5, 159.5), lc_y=(41.838, 43.095), lc_ticks=[0, 50, 100, 150],
         lc=[(mot_t, mot_logL, mot_err, OPT, 9, "optical", None)],
         psd=[(mot_f, mot_p, mot_hi_f, mot_hi_p, OPT)],
         psd_x=(-2.579, -0.152), psd_y=(-4.896, 0.188), psd_legend=None),
    dict(row=2, col=1, lc_x=(162.9, 1105.5), lc_y=(41.277, 43.959),
         lc_ticks=[200, 400, 600, 800, 1000],
         lc=[(avd_x_t, avd_x_logL, avd_x_err, XR, 5, "X-ray", None),
             (avd_uv_t, avd_uv_logL, avd_uv_err, UV, 9, "UV", None),
             (avd_opt_t, avd_opt_logL, avd_opt_err, OPT, 9, "optical", None)],
         psd=[(avd_x_f, avd_x_p, avd_x_hi_f, avd_x_hi_p, XR),
              (avd_opt_f, avd_opt_p, avd_opt_hi_f, avd_opt_hi_p, OPT),
              (avd_uv_f, avd_uv_p, avd_uv_hi_f, avd_uv_hi_p, UV)],
         psd_x=(-3.099, -1.041), psd_y=(-4.022, 0.211), psd_legend="legend6"),
]


def sup_text(k):
    return "10<sup>%s</sup>" % (str(k).replace("-", "\u2212"))


def log_ticks(lo, hi):
    major, minor = [], []
    for k in range(int(np.floor(lo)) - 1, int(np.ceil(hi)) + 1):
        if lo <= k <= hi:
            major.append(k)
        for m in range(2, 10):
            v = k + np.log10(m)
            if lo <= v <= hi:
                minor.append(m * 10.0 ** k)
    return [10.0 ** k for k in major], [sup_text(k) for k in major], minor


BASE_AX = dict(showline=True, linecolor="black", linewidth=2, mirror=True, ticks="inside",
               ticklen=7, tickwidth=1.3, tickcolor="black", showgrid=False, zeroline=False,
               tickfont=dict(family=FONT, size=16, color="black"))
MINOR = dict(ticks="inside", ticklen=4, tickwidth=1, tickcolor="black", showgrid=False)

fig = go.Figure()
layout = {}


def ax_names(n):
    s = "" if n == 1 else str(n)
    return "x" + s, "y" + s, "xaxis" + s, "yaxis" + s


for i, pn in enumerate(panels):
    r0, r1 = ROWS[pn["row"]]
    lx0, lx1 = LC_COLS[pn["col"]]
    px0, px1 = PSD_COLS[pn["col"]]
    ydom = [fy(r1), fy(r0)]

    # ---- light curve axes (the shared right edge is drawn by the PSD axis)
    xa, ya, xk, yk = ax_names(2 * i + 1)
    tv, tt, mv = log_ticks(*pn["lc_y"])
    layout[xk] = dict(BASE_AX, domain=[fx(lx0), fx(lx1)], anchor=ya, range=list(pn["lc_x"]),
                      tickmode="array", tickvals=pn["lc_ticks"])
    layout[yk] = dict(BASE_AX, domain=ydom, anchor=xa, type="log", range=list(pn["lc_y"]),
                      tickmode="array", tickvals=tv, ticktext=tt, mirror=False,
                      ticklabelstandoff=4,
                      minor=dict(MINOR, tickmode="array", tickvals=mv))
    for t, logL, err, rgb, size, name, leg in pn["lc"]:
        L = 10.0 ** np.asarray(logL)
        tr = go.Scatter(x=t, y=L, mode="markers", name=name, xaxis=xa, yaxis=ya,
                        marker=dict(color="rgba(%s,0.5)" % rgb, size=size, line=dict(width=0)),
                        showlegend=leg is not None, legend=leg or "legend", hoverinfo="skip")
        if err is not None:
            tr.error_y = dict(type="data", array=(np.asarray(err) * L).tolist(),
                              color="rgba(%s,0.5)" % rgb, thickness=1.5, width=0)
        fig.add_trace(tr)

    # ---- PSD axes
    xa2, ya2, xk2, yk2 = ax_names(2 * i + 2)
    xtv, xtt, xmv = log_ticks(*pn["psd_x"])
    ytv, ytt, ymv = log_ticks(*pn["psd_y"])
    layout[xk2] = dict(BASE_AX, domain=[fx(px0), fx(px1)], anchor=ya2, type="log",
                       range=list(pn["psd_x"]), tickmode="array", tickvals=xtv, ticktext=xtt,
                       minor=dict(MINOR, tickmode="array", tickvals=xmv))
    layout[yk2] = dict(BASE_AX, domain=ydom, anchor=xa2, type="log", side="right",
                       range=list(pn["psd_y"]), tickmode="array", tickvals=ytv, ticktext=ytt,
                       ticklabelstandoff=2,
                       minor=dict(MINOR, tickmode="array", tickvals=ymv))

    for lf, lp, hf, hp, rgb in pn["psd"]:
        hf_all = [lf[-1]] + list(hf)
        hp_all = [lp[-1]] + list(hp)
        fig.add_trace(go.Scatter(x=10.0 ** np.asarray(hf_all), y=10.0 ** np.asarray(hp_all),
                                 mode="lines", xaxis=xa2, yaxis=ya2, showlegend=False,
                                 hoverinfo="skip",
                                 line=dict(color="rgba(%s,0.22)" % rgb, width=1.4, shape="vh")))
    for lf, lp, hf, hp, rgb in pn["psd"]:
        fig.add_trace(go.Scatter(x=10.0 ** np.asarray(lf), y=10.0 ** np.asarray(lp),
                                 mode="lines", xaxis=xa2, yaxis=ya2, showlegend=False,
                                 hoverinfo="skip",
                                 line=dict(color="rgb(%s)" % rgb, width=2, shape="vh")))

    xr = pn["psd_x"]
    edges = [10.0 ** xr[0], 10.0 ** xr[1]]
    fig.add_trace(go.Scatter(x=edges, y=[10.0 ** noise_log[i]] * 2, mode="lines",
                             xaxis=xa2, yaxis=ya2, showlegend=False, hoverinfo="skip",
                             line=dict(color="rgba(128,128,128,0.75)", width=2)))
    f = np.logspace(xr[0], xr[1], 80)
    leg = pn["psd_legend"]
    fig.add_trace(go.Scatter(x=f, y=10.0 ** ref_norm[i] * f ** -2.0, mode="lines",
                             name="slope = -2", xaxis=xa2, yaxis=ya2, hoverinfo="skip",
                             showlegend=leg is not None, legend=leg or "legend",
                             line=dict(color="black", width=1, dash="4px,2px")))
    fig.add_trace(go.Scatter(x=f, y=10.0 ** fit_norm[i] * f ** fit_slope[i], mode="lines",
                             name=fit_label[i] or "best fit", xaxis=xa2, yaxis=ya2,
                             hoverinfo="skip", showlegend=leg is not None,
                             legend=leg or "legend",
                             line=dict(color="red", width=2.5, dash="2.5px,4.5px")))

# ------------------------------------------------------------------
# Text
# ------------------------------------------------------------------
annotations = []


def txt(x, y, s, size, xanchor="left", yanchor="middle", color="black", angle=0):
    annotations.append(dict(x=fx(x), y=fy(y), xref="paper", yref="paper", text=s,
                            showarrow=False, xanchor=xanchor, yanchor=yanchor, textangle=angle,
                            borderpad=0, font=dict(family=FONT, size=size, color=color)))


row_shift = [0, 314, 628]
for i, pn in enumerate(panels):
    dy = row_shift[pn["row"]]
    lx = LC_COLS[pn["col"]][0]
    px = PSD_COLS[pn["col"]][0]
    txt(lx + 4, 243 + dy, sources[i], 23)
    s = fit_slope[i]
    txt(px + 4, 245 + dy, "slope=\u2212%.1f" % abs(s), 17)
    txt(px + 108, 239 + dy, "+%.1f" % fit_err_hi[i], 12)
    txt(px + 108, 251 + dy, "\u2212%.1f" % fit_err_lo[i], 12)

txt(342, 27, "Shock", 27, xanchor="right")
txt(993, 27, "Disk", 27, xanchor="right")
txt(360, 155, "noise level", 12, color="rgba(128,128,128,0.9)")
txt(22, 447, "Luminosity (erg s<sup>\u22121</sup>)", 26, xanchor="center", angle=-90)
txt(1345, 447, "PSD (erg<sup>2</sup> s<sup>\u22121</sup>)", 26, xanchor="center", angle=-90)
txt(221, 937, "Rest time (day)", 25, xanchor="center")
txt(872, 937, "Rest time (day)", 25, xanchor="center")
txt(491, 938, "Frequency (day<sup>\u22121</sup>)", 25, xanchor="center")
txt(1142, 938, "Frequency (day<sup>\u22121</sup>)", 25, xanchor="center")

LEG = dict(xanchor="left", yanchor="top", bgcolor="rgba(255,255,255,0.8)",
           bordercolor="#cccccc", borderwidth=1, font=dict(family=FONT, size=14, color="black"),
           tracegroupgap=2, itemwidth=30)
layout["legend"] = dict(LEG, x=fx(245), y=fy(229))
layout["legend2"] = dict(LEG, x=fx(489), y=fy(10))
layout["legend3"] = dict(LEG, x=fx(897), y=fy(187))
layout["legend4"] = dict(LEG, x=fx(1098), y=fy(11))
layout["legend5"] = dict(LEG, x=fx(1127), y=fy(325))
layout["legend6"] = dict(LEG, x=fx(1098), y=fy(639))

fig.update_layout(width=W, height=H, margin=dict(l=0, r=0, t=0, b=0),
                  paper_bgcolor="white", plot_bgcolor="white", hovermode=False,
                  font=dict(family=FONT, color="black"), annotations=annotations, **layout)

fig.write_html("out.html")
